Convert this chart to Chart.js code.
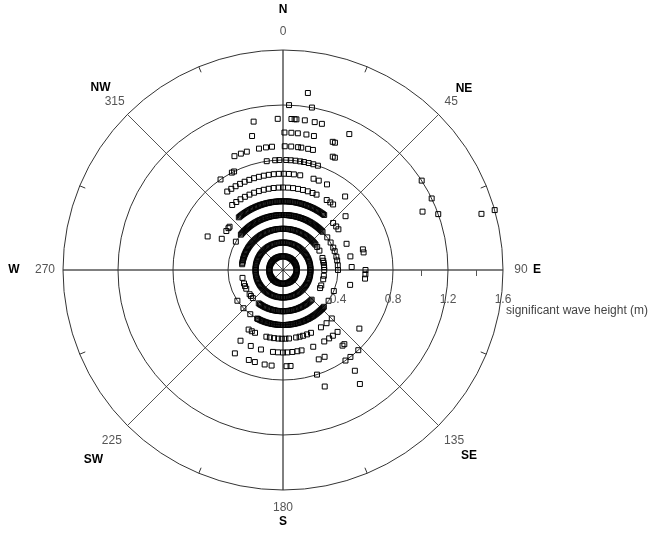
<!DOCTYPE html>
<html>
<head>
<meta charset="utf-8">
<script src="https://cdn.jsdelivr.net/npm/chart.js@4/dist/chart.umd.min.js"></script>
<style>
  html, body { margin: 0; padding: 0; background: #ffffff; }
  canvas { display: block; }
</style>
</head>
<body>
<canvas id="rose" width="657" height="537"></canvas>
<script>
// Wave direction (degrees clockwise from north) observed at each significant wave height class (m)
const dirAt01 = [0,5,10,15,20,25,30,35,40,45,50,55,60,65,70,75,80,85,90,95,100,105,110,115,120,125,130,135,140,145,150,155,160,165,170,175,
  180,185,190,195,200,205,210,215,220,225,230,235,240,245,250,255,260,265,270,275,280,285,290,295,300,305,310,315,320,325,330,335,340,345,350,355];
const dirAt02 = [0,3,6,9,12,15,18,21,24,27,30,33,36,39,42,45,48,51,54,57,60,63,66,69,72,75,78,81,84,87,90,93,96,99,102,105,108,111,114,117,
  120,123,126,129,132,135,138,141,144,147,150,153,156,159,162,165,168,171,174,177,180,183,186,189,192,195,198,201,204,207,210,213,216,219,222,225,228,231,234,237,
  240,243,246,249,252,255,258,261,264,267,270,273,276,279,282,285,288,291,294,297,300,303,306,309,312,315,318,321,324,327,330,333,336,339,342,345,348,351,354,357];
const dirAt03 = [278,280,282,284,286,288,290,292,294,296,298,300,302,304,306,308,310,312,314,316,318,320,322,324,326,328,330,332,334,336,338,340,342,344,346,348,350,352,354,356,358,
  0,2,4,6,8,10,12,14,16,18,20,22,24,26,28,30,32,34,36,38,40,42,44,46,48,50,52,
  56,62,73,77,80,83,86,90,98,103,112,116,
  136,138,140,142,144,146,148,150,152,154,156,158,160,162,164,166,168,170,172,174,176,178,180,182,184,186,188,190,192,194,196,198,200,202,204,206,208,210,212,214,216,
  227,231,234,243,247,251,259];
const dirAt04 = [301,310,311.5,313,314.5,316,317.5,319,320.5,322,323.5,325,326.5,328,329.5,331,332.5,334,335.5,337,338.5,340,341.5,343,344.5,346,347.5,349,350.5,352,353.5,355,356.5,358,359.5,
  1,2.5,4,5.5,7,8.5,10,11.5,13,14.5,16,17.5,19,20.5,22,23.5,25,26.5,28,29.5,31,32.5,34,35.5,37,38.5,40,41.5,43,44.5,46,
  53.6,60,66,70,76,80,85,90,112.5,124,
  132,133.5,135,136.5,138,139.5,141,142.5,144,145.5,147,148.5,150,151.5,153,154.5,156,157.5,159,160.5,162,163.5,165,166.5,168,169.5,171,172.5,174,175.5,177,178.5,
  180,181.5,183,184.5,186,187.5,189,190.5,192,193.5,195,196.5,198,199.5,201,202.5,204,205.5,207,208,
  216.5,226,236];
const dirAt05 = [297,304.5,307.5,309,
  320,321.2,322.4,323.6,324.8,326,327.2,328.4,329.6,330.8,332,333.2,334.4,335.6,336.8,338,339.2,340.4,341.6,342.8,344,345.2,346.4,347.6,348.8,350,351.2,352.4,353.6,354.8,356,357.2,358.4,359.6,
  0.8,2,3.2,4.4,5.6,6.8,8,9.2,10.4,11.6,12.8,14,15.2,16.4,17.6,18.8,20,21.2,22.4,23.6,24.8,26,27.2,28.4,29.6,30.8,32,33.2,34.4,35.6,36.8,
  46.8,50.7,53.7,67.6,78.6,87.5,102.5,134.8,140.7,146.5,
  156,159.5,163,166,169,175,178,181,184,187.5,191,194,204,207,210];
const dirAt06 = [294,322,325.5,329,332.5,336,339.5,343,346.5,350,353.5,357,0,3.5,7,10.5,14,17.5,21,24,32,35,37.4,
  49.3,75.5,77.7,90,93,96,138.6,142.8,146,150,158.5,
  167,170,173.5,177,180,183.5,187,195.5,203,211];
const dirAt07 = [324.6,327.5,330.5,333.5,336.5,339.5,342.5,345.5,348.5,351.5,354.5,357.5,0.5,3.5,6.5,10.3,18.5,21.8,27.2,40.2,
  127.5,140.4,141.8,154.4,158.2,175.5,177.9,186.8,191,197,200.8,210];
const dirAt08 = [325.4,332.3,333.6,351.5,355.9,358.1,1.7,4,6.5,9,11,13.5,16,18.5,136.8,142.2,145.4,162];
const dirAt09 = [336.9,340.1,343,348.8,352.1,354.9,0.8,3.8,7,8.5,11.7,14,23.7,24.8,144.5,160.3];
const dirAt10 = [347,0.6,3.5,6.2,9.8,13,21.2,22.2,146];
const dirAt11 = [348.8,358,3.2,4.4,5.1,8.3,12.1,14.9,26,67.3];
const dirAt12 = [2.1,10.1,57.2,64.3,70.2];
const dirAt13 = [8];
const dirAt14 = [];
const dirAt15 = [74.2];
const dirAt16 = [74.2];

const heightClasses = [0.1,0.2,0.3,0.4,0.5,0.6,0.7,0.8,0.9,1.0,1.1,1.2,1.3,1.4,1.5,1.6];
const directionSets = [dirAt01,dirAt02,dirAt03,dirAt04,dirAt05,dirAt06,dirAt07,dirAt08,
                       dirAt09,dirAt10,dirAt11,dirAt12,dirAt13,dirAt14,dirAt15,dirAt16];

// Radial (height) axis and compass axis
const heightMax = 1.6;
const ringValues = [0.4, 0.8, 1.2, 1.6];
const ringLabels = ['0.4', '0.8', '1.2', '1.6'];
const minorHeightTicks = [0.2, 0.6, 1.0, 1.4];
const spokeAngles = [0, 45, 90, 135, 180, 225, 270, 315];
const spokeAngleLabels = ['0', '45', '90', '135', '180', '225', '270', '315'];
const compassNames = ['N', 'NE', 'E', 'SE', 'S', 'SW', 'W', 'NW'];
const minorAngles = [22.5, 67.5, 112.5, 157.5, 202.5, 247.5, 292.5, 337.5];
const heightAxisTitle = 'significant wave height (m)';

// polar (direction, height) -> cartesian data units, north up, clockwise
const points = [];
heightClasses.forEach((h, i) => {
  directionSets[i].forEach(d => {
    const a = d * Math.PI / 180;
    points.push({ x: h * Math.sin(a), y: h * Math.cos(a) });
  });
});

// distance of the degree labels and compass names from the centre, in pixels
const numberRadius = [238, 238, 238, 242, 238, 242, 238, 238];
const nameRadius = [260, 256, 254, 263, 252, 268, 269, 258];

const compassGrid = {
  id: 'compassGrid',
  beforeDatasetsDraw(chart) {
    const { ctx, scales: { x, y } } = chart;
    const cx = x.getPixelForValue(0), cy = y.getPixelForValue(0);
    const rad = v => x.getPixelForValue(v) - cx;
    const R = rad(heightMax);
    ctx.save();
    // spokes
    spokeAngles.forEach(deg => {
      const a = deg * Math.PI / 180;
      const cardinal = deg % 90 === 0;
      ctx.strokeStyle = cardinal ? '#000000' : '#555555';
      ctx.lineWidth = 1;
      ctx.beginPath();
      ctx.moveTo(cx, cy);
      ctx.lineTo(cx + R * Math.sin(a), cy - R * Math.cos(a));
      ctx.stroke();
    });
    // rings
    ctx.strokeStyle = '#333333';
    ctx.lineWidth = 1;
    ringValues.forEach(v => {
      ctx.beginPath();
      ctx.arc(cx, cy, rad(v), 0, Math.PI * 2);
      ctx.stroke();
    });
    // minor direction ticks on the outer ring
    minorAngles.forEach(deg => {
      const a = deg * Math.PI / 180;
      ctx.beginPath();
      ctx.moveTo(cx + R * Math.sin(a), cy - R * Math.cos(a));
      ctx.lineTo(cx + (R - 6) * Math.sin(a), cy - (R - 6) * Math.cos(a));
      ctx.stroke();
    });
    // minor height ticks along the east axis
    ctx.strokeStyle = '#555555';
    minorHeightTicks.forEach(v => {
      const px = Math.round(cx + rad(v)) + 0.5;
      ctx.beginPath();
      ctx.moveTo(px, cy);
      ctx.lineTo(px, cy + 6);
      ctx.stroke();
    });
    ctx.restore();
  },
  afterDatasetsDraw(chart) {
    const { ctx, scales: { x, y } } = chart;
    const cx = x.getPixelForValue(0), cy = y.getPixelForValue(0);
    const rad = v => x.getPixelForValue(v) - cx;
    ctx.save();
    ctx.textAlign = 'center';
    ctx.textBaseline = 'middle';
    // height tick labels below the east axis
    ctx.font = '12px "Liberation Sans", Arial, sans-serif';
    ctx.fillStyle = '#555555';
    ringValues.forEach((v, i) => {
      ctx.fillText(ringLabels[i], cx + rad(v), cy + 30);
    });
    // direction degrees and compass names
    spokeAngles.forEach((deg, i) => {
      const a = deg * Math.PI / 180;
      const rNum = numberRadius[i], rName = nameRadius[i];
      ctx.font = '12px "Liberation Sans", Arial, sans-serif';
      ctx.fillStyle = '#555555';
      ctx.fillText(spokeAngleLabels[i], cx + rNum * Math.sin(a), cy - rNum * Math.cos(a));
      ctx.font = 'bold 12px "Liberation Sans", Arial, sans-serif';
      ctx.fillStyle = '#000000';
      ctx.fillText(compassNames[i], cx + rName * Math.sin(a), cy - rName * Math.cos(a));
    });
    // radial axis title
    ctx.font = '12px "Liberation Sans", Arial, sans-serif';
    ctx.fillStyle = '#444444';
    ctx.textAlign = 'left';
    ctx.fillText(heightAxisTitle, cx + rad(heightMax) + 3, cy + 41);
    ctx.restore();
  }
};

new Chart(document.getElementById('rose'), {
  type: 'scatter',
  data: {
    datasets: [{
      data: points,
      pointStyle: 'rect',
      pointRadius: 3.5,
      pointBorderWidth: 1,
      pointBorderColor: '#000000',
      pointBackgroundColor: 'rgba(0,0,0,0)',
      clip: false
    }]
  },
  options: {
    responsive: false,
    animation: false,
    events: [],
    layout: { padding: { left: 63, right: 154, top: 50, bottom: 47 } },
    plugins: { legend: { display: false }, tooltip: { enabled: false } },
    scales: {
      x: { type: 'linear', min: -heightMax, max: heightMax, display: false },
      y: { type: 'linear', min: -heightMax, max: heightMax, display: false }
    }
  },
  plugins: [compassGrid]
});
</script>
</body>
</html>
